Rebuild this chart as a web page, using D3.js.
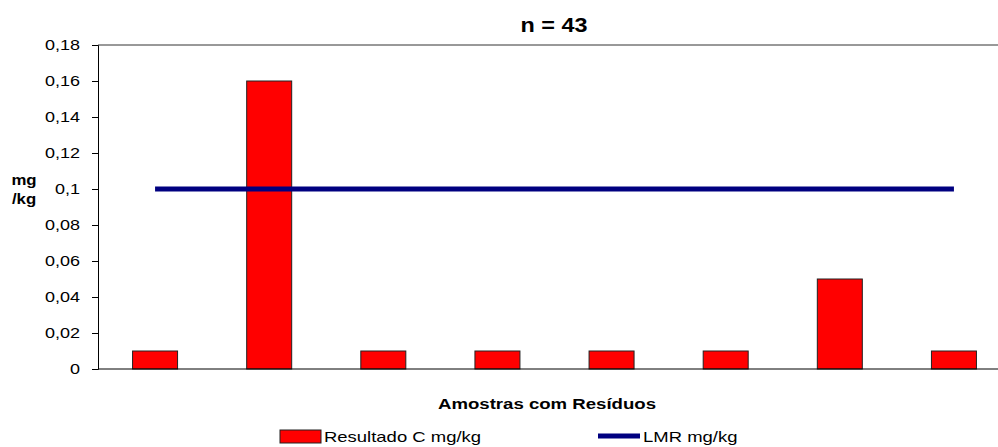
<!DOCTYPE html>
<html>
<head>
  <script src="https://cdnjs.cloudflare.com/ajax/libs/d3/7.0.0/d3.min.js"></script>
  <style>
    body { margin: 0; background: #fff; }
    text { font-family: "Liberation Sans", Arial, sans-serif; }
  </style>
</head>
<body>
  <div id="chart"></div>
  <script>
    var categories = ["1", "2", "3", "4", "5", "6", "7", "8"];
    var resultado = [0.01, 0.16, 0.01, 0.01, 0.01, 0.01, 0.05, 0.01];
    var lmr = [0.1, 0.1, 0.1, 0.1, 0.1, 0.1, 0.1, 0.1];
    var yTicks = [0, 0.02, 0.04, 0.06, 0.08, 0.1, 0.12, 0.14, 0.16, 0.18];

    var W = 998, H = 447;
    var margin = { top: 45, right: -13, bottom: 78, left: 98 };
    var width = W - margin.left - margin.right;
    var height = H - margin.top - margin.bottom;
    var sx = 1.2; // the original text is stretched horizontally

    var svg = d3.select("#chart").append("svg")
      .attr("width", W).attr("height", H);

    var g = svg.append("g")
      .attr("transform", "translate(" + margin.left + "," + margin.top + ")");

    var x = d3.scaleBand().domain(categories).range([0, width]).paddingInner(0).paddingOuter(0);
    var y = d3.scaleLinear().domain([0, 0.18]).range([height, 0]);

    var fmt = function(d) { return d3.format("~g")(d).replace(".", ","); };

    function label(parent, px, py, txt, size, bold, anchor) {
      return parent.append("text")
        .attr("transform", "translate(" + px + "," + py + ") scale(" + sx + ",1)")
        .attr("text-anchor", anchor || "start")
        .attr("font-size", size)
        .attr("font-weight", bold ? "bold" : "normal")
        .attr("fill", "#000")
        .text(txt);
    }

    // top border
    g.append("line")
      .attr("x1", 0).attr("x2", width)
      .attr("y1", 0).attr("y2", 0)
      .attr("stroke", "#333").attr("stroke-width", 1);

    var barW = 45;
    g.selectAll("rect.bar")
      .data(resultado)
      .enter().append("rect")
      .attr("class", "bar")
      .attr("x", (d, i) => x(categories[i]) + x.bandwidth() / 2 - barW / 2)
      .attr("y", d => y(d))
      .attr("width", barW)
      .attr("height", d => y(0) - y(d))
      .attr("fill", "#ff0000")
      .attr("stroke", "#222")
      .attr("stroke-width", 1);

    var line = d3.line()
      .x((d, i) => x(categories[i]) + x.bandwidth() / 2)
      .y(d => y(d));

    g.append("path")
      .datum(lmr)
      .attr("d", line)
      .attr("fill", "none")
      .attr("stroke", "#000080")
      .attr("stroke-width", 5);

    // y axis
    var yAxis = g.append("g")
      .call(d3.axisLeft(y).tickValues(yTicks).tickFormat(fmt).tickSize(6));
    yAxis.select(".domain").attr("stroke", "#000");
    yAxis.selectAll(".tick text")
      .attr("x", -18 / sx)
      .attr("transform", "scale(" + sx + ",1)")
      .attr("font-size", 15).attr("fill", "#000")
      .attr("font-family", "Liberation Sans, Arial, sans-serif");

    // baseline
    g.append("line")
      .attr("x1", 0).attr("x2", width)
      .attr("y1", height).attr("y2", height)
      .attr("stroke", "#000").attr("stroke-width", 1);

    // title
    label(svg, 554, 32, "n = 43", 19.5, true, "middle");

    // y label
    label(svg, 24, 185, "mg", 14, true, "middle");
    label(svg, 24, 204, "/kg", 14, true, "middle");

    // x axis title
    label(svg, 547, 409, "Amostras com Resíduos", 15.5, true, "middle");

    // legend
    var leg = svg.append("g");
    leg.append("rect")
      .attr("x", 280).attr("y", 430).attr("width", 41).attr("height", 13)
      .attr("fill", "#ff0000").attr("stroke", "#222");
    label(leg, 324, 442, "Resultado C mg/kg", 15.4, false);
    leg.append("line")
      .attr("x1", 598).attr("x2", 640).attr("y1", 436).attr("y2", 436)
      .attr("stroke", "#000080").attr("stroke-width", 5);
    label(leg, 643, 442, "LMR mg/kg", 15.4, false);
  </script>
</body>
</html>
